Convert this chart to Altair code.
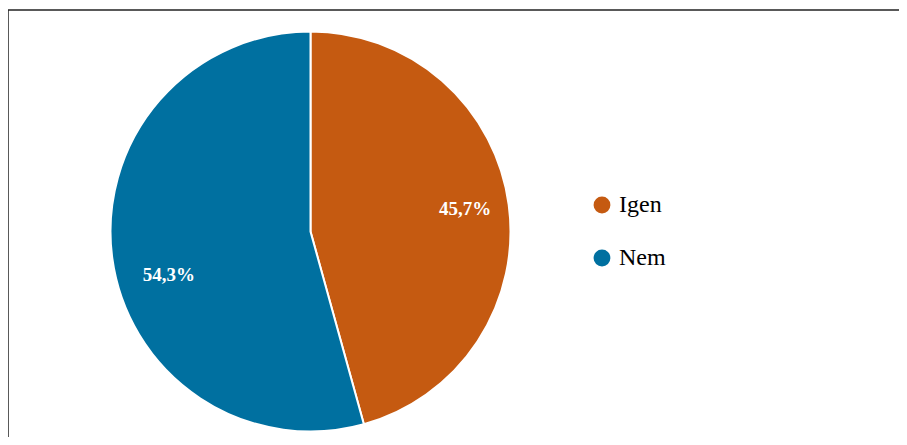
import altair as alt
import pandas as pd

categories = ["Igen", "Nem"]
values = [45.7, 54.3]
labels = ["45,7%", "54,3%"]
colors = ["#C55A11", "#0070A0"]

df = pd.DataFrame({"cat": categories, "val": values, "label": labels, "ord": [0, 1]})

W, H = 891, 427
CX, CY = 302.5, 221.5

base = alt.Chart(df).encode(
    theta=alt.Theta("val:Q", stack=True),
    order=alt.Order("ord:Q"),
)

pie = base.mark_arc(outerRadius=200, stroke="white", strokeWidth=2).encode(
    x=alt.value(CX),
    y=alt.value(CY),
    color=alt.Color(
        "cat:N",
        scale=alt.Scale(domain=categories, range=colors),
        legend=alt.Legend(
            title=None,
            orient="none",
            legendX=582,
            legendY=183,
            symbolType="circle",
            symbolSize=283,
            symbolStrokeWidth=0,
            labelFont="Liberation Serif",
            labelFontSize=24,
            labelColor="#000000",
            rowPadding=29,
            labelOffset=5,
        ),
    ),
)

stacked = (
    alt.Chart(df)
    .transform_stack(stack="val", as_=["s0", "s1"], groupby=[], sort=[alt.SortField("ord")])
    .transform_calculate(mid="(datum.s0 + datum.s1) / 2")
)

def label_layer(cat, dx, dy):
    return stacked.transform_filter(alt.datum.cat == cat).mark_text(
        radius=152,
        font="Liberation Serif",
        fontSize=19,
        fontWeight="bold",
        color="white",
        dx=dx,
        dy=dy,
    ).encode(
        theta=alt.Theta("mid:Q", scale=alt.Scale(domain=[0, 100])),
        x=alt.value(CX),
        y=alt.value(CY),
        text="label:N",
    )

text_igen = label_layer("Igen", 4, -2)
text_nem = label_layer("Nem", 9, 23)

border_df = pd.DataFrame({"k": [0]})
left_line = alt.Chart(border_df).mark_rule(color="#222222", strokeWidth=1.5).encode(
    x=alt.value(0), y=alt.value(0), y2=alt.value(H)
)
top_line = alt.Chart(border_df).mark_rule(color="#222222", strokeWidth=1.5).encode(
    x=alt.value(0), x2=alt.value(W), y=alt.value(0)
)

chart = (
    alt.layer(pie, text_igen, text_nem, left_line, top_line)
    .resolve_scale(theta="independent")
    .properties(
        width=W,
        height=H,
        autosize=alt.AutoSizeParams(type="none"),
        padding={"left": 0, "top": 2, "right": 0, "bottom": 0},
    )
    .configure_view(stroke=None)
)

chart.save("out.html", embed_options={"renderer": "svg", "actions": False})
